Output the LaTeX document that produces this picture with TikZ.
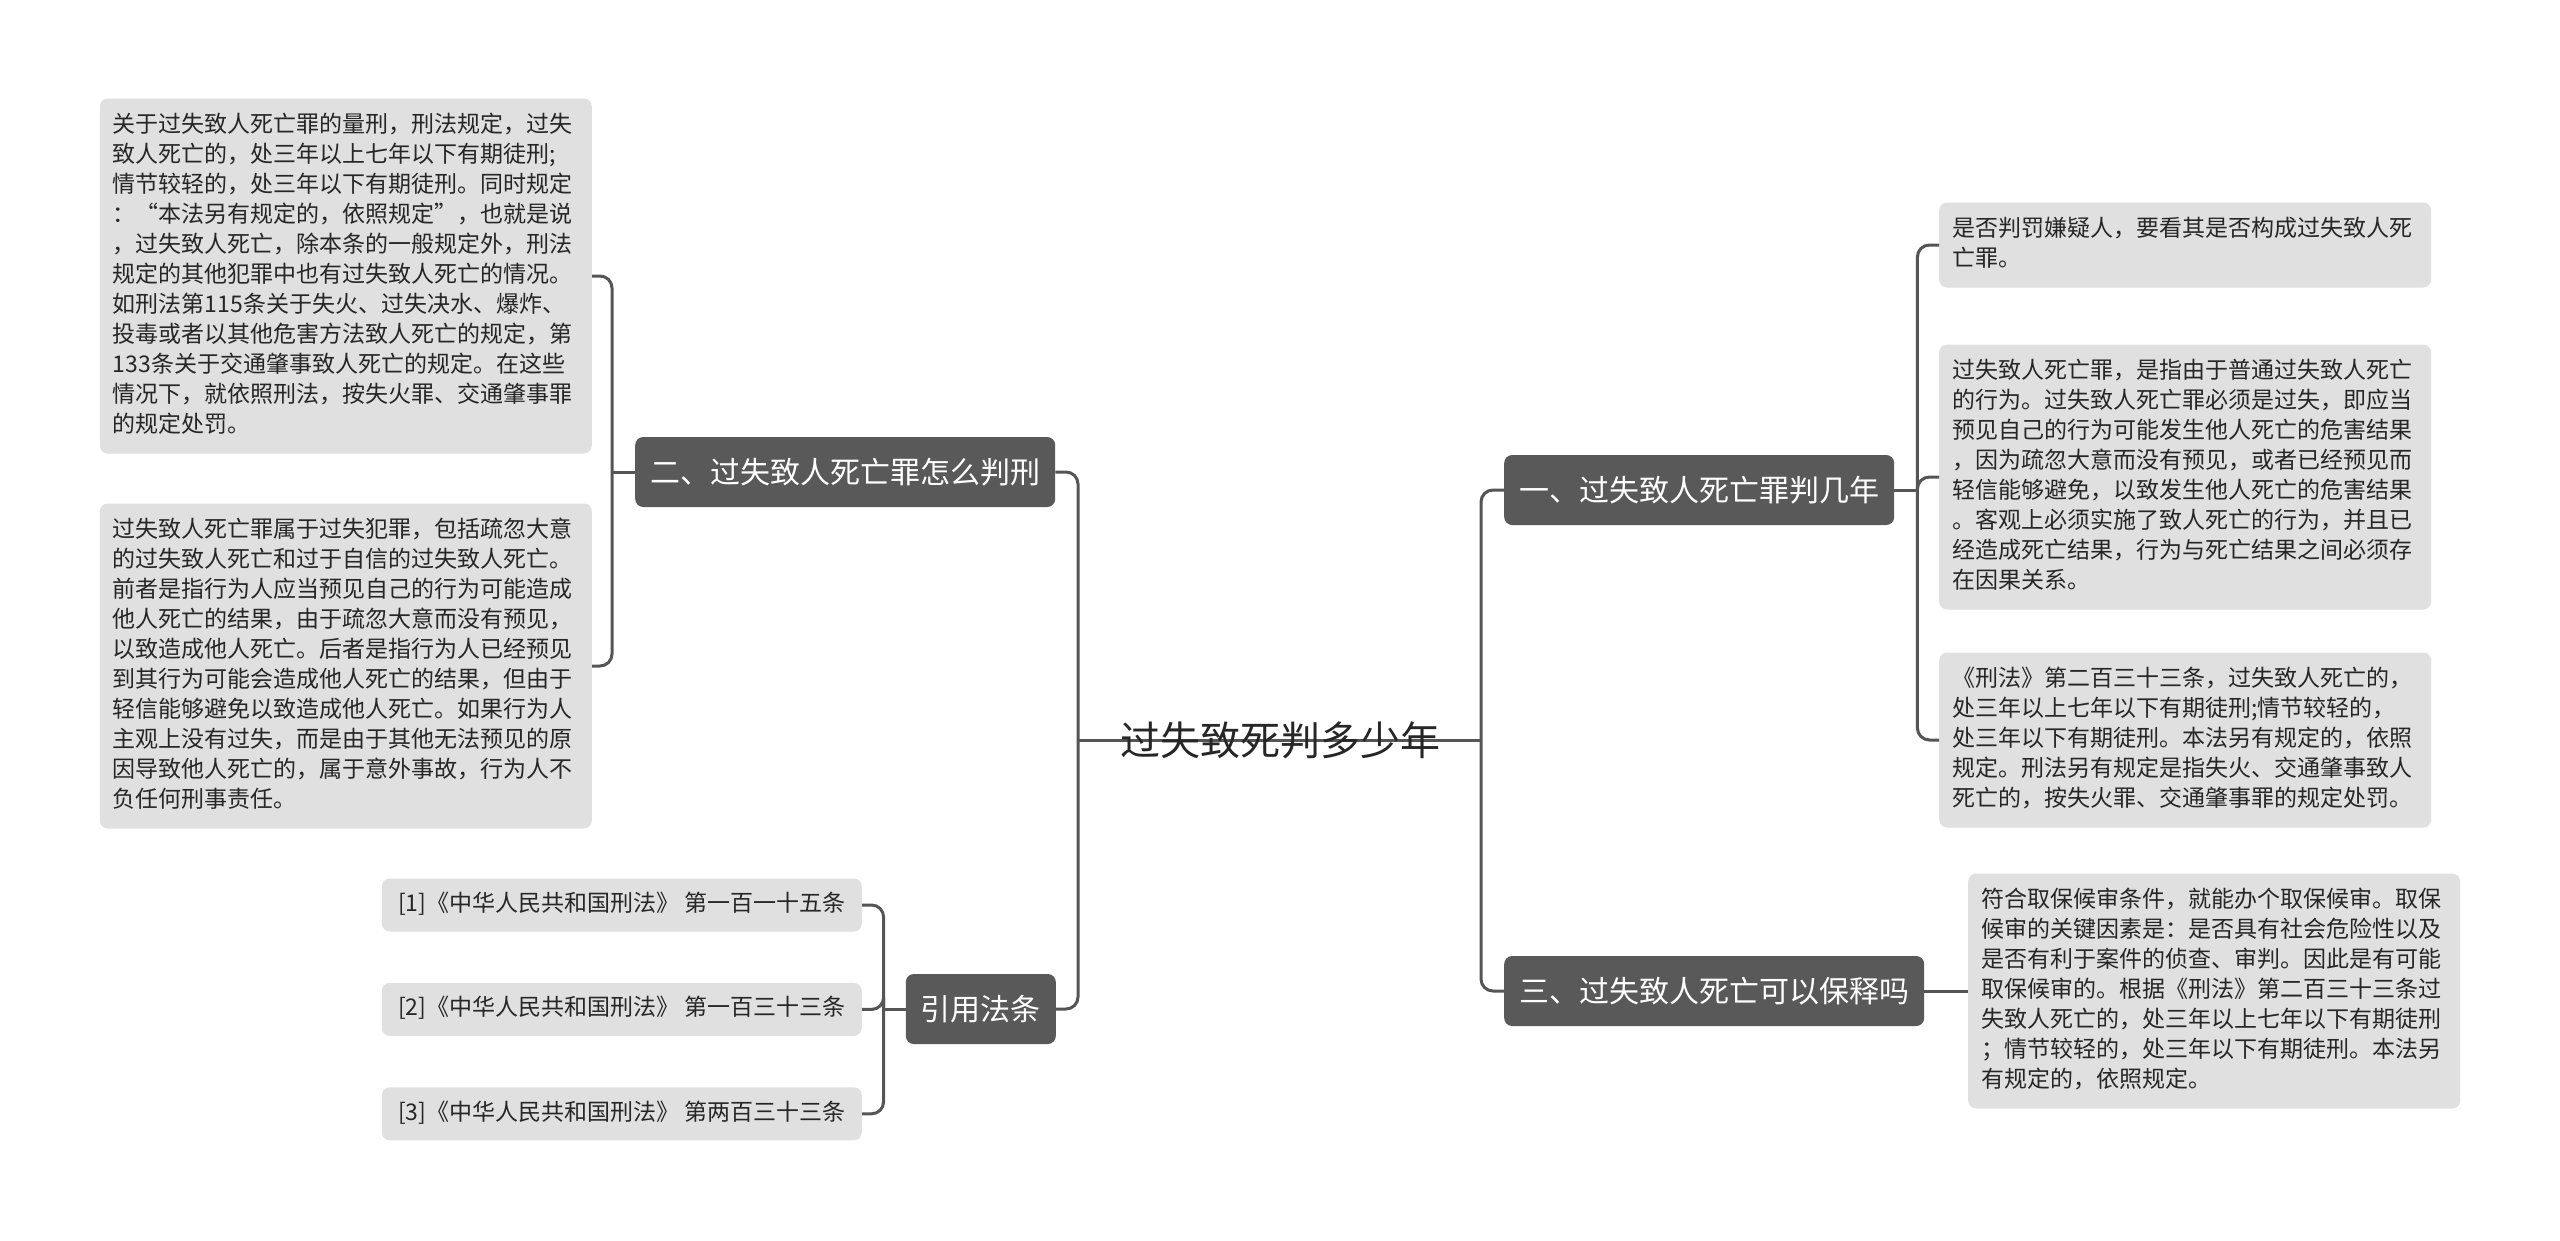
\documentclass[tikz,border=0pt]{standalone}
\usepackage{fontspec}
\setmainfont{Noto Sans CJK SC}
\usetikzlibrary{positioning,calc}
\definecolor{topicGray}{HTML}{595959}
\definecolor{noteGray}{HTML}{E0E0E0}
\definecolor{lineGray}{HTML}{555555}
\definecolor{inkGray}{HTML}{262626}

\begin{document}
\begin{tikzpicture}[x=1pt,y=-1pt,
  root/.style={font=\fontsize{40}{48}\selectfont,text=inkGray,inner sep=0pt},
  topic/.style={rounded corners=8pt,fill=topicGray,text=white,font=\fontsize{30}{36}\selectfont,inner xsep=15pt,inner ysep=20pt,text height=26pt,text depth=4pt},
  note/.style={rounded corners=8pt,fill=noteGray,text=inkGray,font=\fontsize{23}{30}\selectfont,text width=466pt,align=left,inner xsep=13pt,inner ysep=12.5pt,execute at begin node=\strut,execute at end node=\strut},
  cite/.style={rounded corners=8pt,fill=noteGray,text=inkGray,font=\fontsize{23}{30}\selectfont,minimum width=480pt,inner xsep=13pt,inner ysep=12pt,text height=21pt,text depth=8pt},
  link/.style={draw=lineGray,line width=3pt,rounded corners=12pt}
]
\useasboundingbox[fill=white] (0,0) rectangle (2560,1240);
\coordinate (sl) at (1078,740);
\coordinate (sr) at (1481,740);
\draw[link] (sl) -- (sr);
\node[root] (main) at (1280,740) {过失致死判多少年};
\node[topic,anchor=west] (t2) at (635,472) {二、过失致人死亡罪怎么判刑};
\node[topic,anchor=east] (t4) at (1056,1009) {引用法条};
\node[topic,anchor=west] (t1) at (1504,490) {一、过失致人死亡罪判几年};
\node[topic,anchor=west] (t3) at (1504,991) {三、过失致人死亡可以保释吗};
\node[note,anchor=east] (l1) at (592,276) {关于过失致人死亡罪的量刑，刑法规定，过失\\致人死亡的，处三年以上七年以下有期徒刑;\\情节较轻的，处三年以下有期徒刑。同时规定\\：“本法另有规定的，依照规定”，也就是说\\，过失致人死亡，除本条的一般规定外，刑法\\规定的其他犯罪中也有过失致人死亡的情况。\\如刑法第115条关于失火、过失决水、爆炸、\\投毒或者以其他危害方法致人死亡的规定，第\\133条关于交通肇事致人死亡的规定。在这些\\情况下，就依照刑法，按失火罪、交通肇事罪\\的规定处罚。};
\node[note,anchor=east] (l2) at (592,666) {过失致人死亡罪属于过失犯罪，包括疏忽大意\\的过失致人死亡和过于自信的过失致人死亡。\\前者是指行为人应当预见自己的行为可能造成\\他人死亡的结果，由于疏忽大意而没有预见，\\以致造成他人死亡。后者是指行为人已经预见\\到其行为可能会造成他人死亡的结果，但由于\\轻信能够避免以致造成他人死亡。如果行为人\\主观上没有过失，而是由于其他无法预见的原\\因导致他人死亡的，属于意外事故，行为人不\\负任何刑事责任。};
\node[cite,anchor=east] (c1) at (862,905) {[1]《中华人民共和国刑法》 第一百一十五条};
\node[cite,below=51pt of c1] (c2) {[2]《中华人民共和国刑法》 第一百三十三条};
\node[cite,below=51pt of c2] (c3) {[3]《中华人民共和国刑法》 第两百三十三条};
\node[note,anchor=west] (r1) at (1939,245) {是否判罚嫌疑人，要看其是否构成过失致人死\\亡罪。};
\node[note,anchor=west] (r2) at (1939,477) {过失致人死亡罪，是指由于普通过失致人死亡\\的行为。过失致人死亡罪必须是过失，即应当\\预见自己的行为可能发生他人死亡的危害结果\\，因为疏忽大意而没有预见，或者已经预见而\\轻信能够避免，以致发生他人死亡的危害结果\\。客观上必须实施了致人死亡的行为，并且已\\经造成死亡结果，行为与死亡结果之间必须存\\在因果关系。};
\node[note,anchor=west] (r3) at (1939,740) {《刑法》第二百三十三条，过失致人死亡的，\\处三年以上七年以下有期徒刑;情节较轻的，\\处三年以下有期徒刑。本法另有规定的，依照\\规定。刑法另有规定是指失火、交通肇事致人\\死亡的，按失火罪、交通肇事罪的规定处罚。};
\node[note,anchor=west] (r4) at (1968,991) {符合取保候审条件，就能办个取保候审。取保\\候审的关键因素是：是否具有社会危险性以及\\是否有利于案件的侦查、审判。因此是有可能\\取保候审的。根据《刑法》第二百三十三条过\\失致人死亡的，处三年以上七年以下有期徒刑\\；情节较轻的，处三年以下有期徒刑。本法另\\有规定的，依照规定。};
\coordinate (s2) at ($(t2.west)+(-23pt,0pt)$);
\coordinate (s4) at ($(t4.west)+(-22pt,0pt)$);
\coordinate (s1) at ($(t1.east)+(23pt,0pt)$);
\draw[link] (sl) |- (t2.east);
\draw[link] (sl) |- (t4.east);
\draw[link] (sr) |- (t1.west);
\draw[link] (sr) |- (t3.west);
\draw[link] (t2.west) -- (s2);
\draw[link] (s2) |- (l1.east);
\draw[link] (s2) |- (l2.east);
\draw[link] (t4.west) -- (s4);
\draw[link] (s4) |- (c1.east);
\draw[link] (s4) |- (c2.east);
\draw[link] (s4) |- (c3.east);
\draw[link] (t1.east) -- (s1);
\draw[link] (s1) |- (r1.west);
\draw[link] (s1) |- (r2.west);
\draw[link] (s1) |- (r3.west);
\draw[link] (t3.east) -- (r4.west);
\end{tikzpicture}
\end{document}
